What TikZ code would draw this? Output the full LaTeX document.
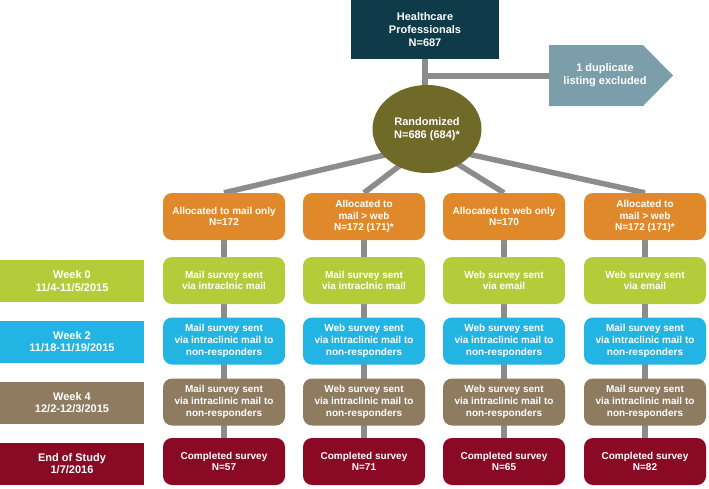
\documentclass[tikz,border=0pt]{standalone}
\usepackage{fontspec}
\setmainfont{Liberation Sans}
\usetikzlibrary{backgrounds,shapes.geometric}
\definecolor{hpcol}{HTML}{0E3A4A}
\definecolor{dupcol}{HTML}{7C9EAA}
\definecolor{randcol}{HTML}{6F6A27}
\definecolor{orcol}{HTML}{E0892B}
\definecolor{grcol}{HTML}{B5CC3A}
\definecolor{blcol}{HTML}{22B4E3}
\definecolor{brcol}{HTML}{8E7B60}
\definecolor{rdcol}{HTML}{8A0A26}
\definecolor{conncol}{HTML}{8C8C8C}
\begin{document}
\begin{tikzpicture}[x=1pt,y=-1pt,
  every node/.style={text=white,align=center,inner sep=0pt,font=\bfseries\fontsize{10}{11.7}\selectfont},
  colbox/.style={rounded corners=9pt,minimum width=122pt,minimum height=47pt},
  lblbox/.style={minimum width=144pt,minimum height=42pt,font=\bfseries\fontsize{11}{12.3}\selectfont},
  bigtxt/.style={font=\bfseries\fontsize{11}{13.2}\selectfont},
  conn/.style={draw=conncol,line width=5.5pt}]
\useasboundingbox (0,0) rectangle (709,488);

% top
\node[fill=hpcol,minimum width=148pt,minimum height=59pt,bigtxt] (hp) at (425,29.5) {Healthcare\\Professionals\\N=687};
\node[ellipse,fill=randcol,minimum width=109pt,minimum height=88pt,bigtxt] (rand) at (427,129) {Randomized\\N=686 (684)*};
\fill[dupcol] (549,45) -- (643,45) -- (673,75.5) -- (643,106) -- (549,106) -- cycle;
\node[bigtxt] (dup) at (605,75.5) {1 duplicate\\listing excluded};
\coordinate (dupw) at (549,76);
\coordinate (junc) at (425,76);
\coordinate (hub) at (427,145);

% allocation row
\node[colbox,fill=orcol] (o1) at (224,216.5) {Allocated to mail only\\N=172};
\node[colbox,fill=orcol] (o2) at (364,216.5) {Allocated to\\mail > web\\N=172 (171)*};
\node[colbox,fill=orcol] (o3) at (504,216.5) {Allocated to web only\\N=170};
\node[colbox,fill=orcol] (o4) at (645,216.5) {Allocated to\\mail > web\\N=172 (171)*};

% week 0
\node[lblbox,fill=grcol] (l0) at (72,281) {Week 0\\11/4-11/5/2015};
\node[colbox,fill=grcol] (g1) at (224,280.5) {Mail survey sent\\via intraclnic mail};
\node[colbox,fill=grcol] (g2) at (364,280.5) {Mail survey sent\\via intraclnic mail};
\node[colbox,fill=grcol] (g3) at (504,280.5) {Web survey sent\\via email};
\node[colbox,fill=grcol] (g4) at (645,280.5) {Web survey sent\\via email};

% week 2
\node[lblbox,fill=blcol] (l2) at (72,341.5) {Week 2\\11/18-11/19/2015};
\node[colbox,fill=blcol] (b1) at (224,341) {Mail survey sent\\via intraclinic mail to\\non-responders};
\node[colbox,fill=blcol] (b2) at (364,341) {Web survey sent\\via intraclinic mail to\\non-responders};
\node[colbox,fill=blcol] (b3) at (504,341) {Web survey sent\\via intraclinic mail to\\non-responders};
\node[colbox,fill=blcol] (b4) at (645,341) {Mail survey sent\\via intraclinic mail to\\non-responders};

% week 4
\node[lblbox,fill=brcol] (l4) at (72,402.5) {Week 4\\12/2-12/3/2015};
\node[colbox,fill=brcol] (w1) at (224,402) {Mail survey sent\\via intraclinic mail to\\non-responders};
\node[colbox,fill=brcol] (w2) at (364,402) {Web survey sent\\via intraclinic mail to\\non-responders};
\node[colbox,fill=brcol] (w3) at (504,402) {Web survey sent\\via intraclinic mail to\\non-responders};
\node[colbox,fill=brcol] (w4) at (645,402) {Mail survey sent\\via intraclinic mail to\\non-responders};

% end of study
\node[lblbox,fill=rdcol] (le) at (72,463.5) {End of Study\\1/7/2016};
\node[colbox,fill=rdcol] (r1) at (224,461.5) {Completed survey\\N=57};
\node[colbox,fill=rdcol] (r2) at (364,461.5) {Completed survey\\N=71};
\node[colbox,fill=rdcol] (r3) at (504,461.5) {Completed survey\\N=65};
\node[colbox,fill=rdcol] (r4) at (645,461.5) {Completed survey\\N=82};

\begin{scope}[on background layer]
  \draw[conn] (hp.south) -- (hp.south |- rand.north);
  \draw[conn] (junc) -- (dupw);
  \foreach \c in {o1,o2,o3,o4} \draw[conn] (hub) -- (\c.north);
  \foreach \a/\b in {o1/g1,g1/b1,b1/w1,w1/r1,o2/g2,g2/b2,b2/w2,w2/r2,o3/g3,g3/b3,b3/w3,w3/r3,o4/g4,g4/b4,b4/w4,w4/r4}
    \draw[conn] (\a.center) -- (\b.center);
\end{scope}
\end{tikzpicture}
\end{document}
